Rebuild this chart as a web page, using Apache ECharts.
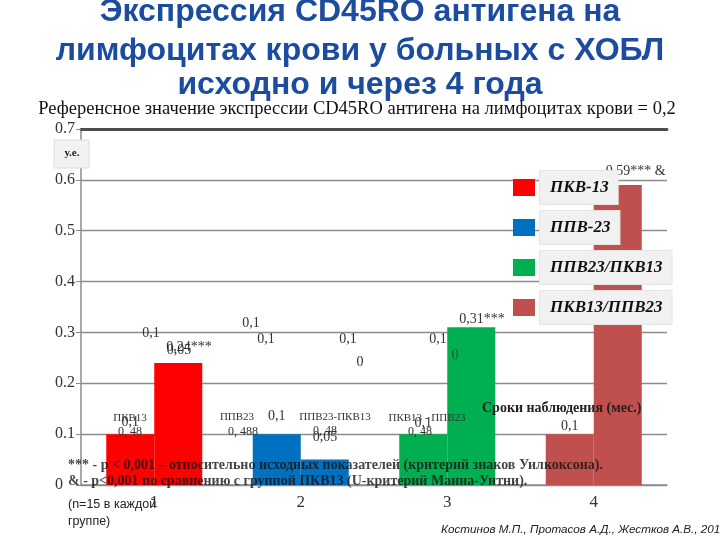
<!DOCTYPE html>
<html><head><meta charset="utf-8">
<script src="https://cdn.jsdelivr.net/npm/echarts@6/dist/echarts.min.js"></script>
<style>html,body{margin:0;padding:0;background:#fff}#c{width:720px;height:540px}</style>
</head><body><div id="c"></div>
<script>
// ---- data ----
const categories = ['1', '2', '3', '4'];
const groupNames = ['ПКВ-13', 'ППВ-23', 'ППВ23/ПКВ13', 'ПКВ13/ППВ23'];
const baselineValues = [0.1, 0.1, 0.1, 0.1];
const after4yValues = [0.24, 0.05, 0.31, 0.59];
const after4yMarks = ['***', '', '***', '*** &'];
const yMin = 0, yMax = 0.7, yStep = 0.1;

// ---- styles / layout (kept apart from data) ----
const groupColors = ['#ff0000', '#0070c0', '#00b050', '#c0504d'];
const baseLabelDist = [5, 11, 4, 1];
const afterLabelDist = [9, 15, 1, 7];
const SERIF = '"Liberation Serif", "DejaVu Serif", serif';
const SANS = '"Liberation Sans", Arial, sans-serif';

// stray annotation texts seen on the slide
const strayTexts = [
  ['0,1', 151, 333, 14, '#333'], ['0,05', 179, 350, 14, '#333'],
  ['0,1', 251, 323, 14, '#333'], ['0,1', 266, 339, 14, '#333'],
  ['0,1', 348, 339, 14, '#333'], ['0', 360, 362, 14, '#333'],
  ['0,1', 438, 339, 14, '#333'], ['0', 455, 355, 14, '#1d5a2c'],
  ['ПКВ13', 130, 418, 11, '#333'], ['0, 48', 130, 432, 12, '#333'],
  ['ППВ23', 237, 417, 11, '#333'], ['0, 488', 243, 432, 12, '#333'],
  ['ППВ23-ПКВ13', 335, 417, 11, '#333'], ['0, 48', 325, 431, 12, '#333'],
  ['ПКВ13 - ППВ23', 427, 418, 11, '#333'], ['0, 48', 420, 432, 12, '#333']
];

const fmt = v => String(v).replace('.', ',');

const chart = echarts.init(document.getElementById('c'), null, {renderer: 'canvas'});

const baseData = baselineValues.map((v, i) => ({
  value: v,
  itemStyle: {color: groupColors[i]},
  label: {distance: baseLabelDist[i]}
}));
const afterData = after4yValues.map((v, i) => ({
  value: v,
  itemStyle: {color: groupColors[i]},
  label: {distance: afterLabelDist[i], formatter: fmt(v) + after4yMarks[i]}
}));

const legendSeries = groupNames.map((n, i) => ({
  name: n, type: 'line', data: [], xAxisIndex: 0, yAxisIndex: 0,
  itemStyle: {color: groupColors[i]}, lineStyle: {color: groupColors[i]}
}));

const T = (t, x, y, font, fill, align, z) => ({
  type: 'text', z: z || 100, x: x, y: y,
  style: {text: t, font: font, fill: fill, align: align, verticalAlign: 'middle', textAlign: align, textVerticalAlign: 'middle'}
});

const graphics = [];
// title
const titleLines = [['Экспрессия CD45RO антигена на', 12], ['лимфоцитах крови у больных с ХОБЛ', 51], ['исходно и через 4 года', 85]];
titleLines.forEach(([t, y]) => graphics.push(T(t, 360, y, 'bold 32px ' + SANS, '#1c4c9f', 'center')));
graphics.push(T('Референсное значение экспрессии CD45RO антигена на лимфоцитах крови = 0,2', 357, 109, '18.5px ' + SERIF, '#111', 'center'));
// unit box
graphics.push({type: 'rect', z: 100, shape: {x: 54, y: 140, width: 35, height: 28}, style: {fill: '#f2f2f2', stroke: '#dcdcdc', lineWidth: 1}});
graphics.push(T('у.е.', 72, 153, 'bold 11px ' + SERIF, '#222', 'center', 101));
// stray texts
strayTexts.forEach(([t, x, y, s, c]) => graphics.push(T(t, x, y, s + 'px ' + SERIF, c, 'center', 90)));
// axis caption
graphics.push(T('Сроки наблюдения (мес.)', 482, 408, 'bold 14px ' + SERIF, '#222', 'left'));
// footnotes
graphics.push(T('*** - p < 0,001 – относительно исходных показателей (критерий знаков Уилкоксона).', 68, 465, 'bold 14px ' + SERIF, 'rgba(20,20,20,0.8)', 'left'));
graphics.push(T('& - p<0,001 по сравнению с группой ПКВ13 (U-критерий Манна-Уитни).', 68, 481, 'bold 14px ' + SERIF, 'rgba(20,20,20,0.8)', 'left'));
graphics.push(T('(n=15 в каждой', 68, 505, '12.5px ' + SANS, '#222', 'left'));
graphics.push(T('группе)', 68, 522, '12.5px ' + SANS, '#222', 'left'));
graphics.push(T('Костинов М.П., Протасов А.Д., Жестков А.В., 2014', 441, 530, 'italic 11.7px ' + SANS, '#222', 'left'));

const option = {
  animation: false,
  backgroundColor: '#fff',
  grid: {left: 81, right: 53, top: 129, bottom: 55, containLabel: false},
  legend: {
    data: groupNames, orient: 'vertical', left: 508, top: 165,
    icon: 'rect', itemWidth: 22, itemHeight: 17, itemGap: 5,
    selectedMode: false,
    textStyle: {fontFamily: SERIF, fontStyle: 'italic', fontWeight: 'bold', fontSize: 17, color: '#111',
      backgroundColor: '#f1f1f1', padding: [8, 9, 8, 10], borderColor: '#e4e4e4', borderWidth: 1}
  },
  xAxis: [{
    type: 'category', data: categories, position: 'bottom',
    axisLine: {lineStyle: {color: '#8c8c8c', width: 1.5}},
    axisTick: {show: false},
    axisLabel: {fontFamily: SERIF, fontSize: 17, color: '#333', margin: 9}
  }, {
    type: 'category', data: categories, position: 'top',
    axisLine: {lineStyle: {color: '#4d4d4d', width: 3}},
    axisTick: {show: false}, axisLabel: {show: false}
  }],
  yAxis: {
    type: 'value', min: yMin, max: yMax, interval: yStep,
    axisLine: {show: true, lineStyle: {color: '#8c8c8c', width: 1.5}},
    axisTick: {show: true, length: 5, lineStyle: {color: '#8c8c8c'}},
    splitLine: {lineStyle: {color: '#8c8c8c', width: 1.3}},
    axisLabel: {fontFamily: SERIF, fontSize: 16, color: '#333', margin: 26, align: 'left',
      formatter: v => v === 0 ? '0' : v.toFixed(1)}
  },
  series: [
    {
      name: 'исходно', type: 'bar', xAxisIndex: 0, data: baseData, barWidth: 48, barGap: '0%',
      label: {show: true, position: 'top', fontFamily: SERIF, fontSize: 14, color: '#333', formatter: p => fmt(p.value)}
    },
    {
      name: 'через 4 года', type: 'bar', xAxisIndex: 0, data: afterData, barWidth: 48, barGap: '0%',
      label: {show: true, position: 'top', align: 'left', offset: [-12, 0], fontFamily: SERIF, fontSize: 14, color: '#333'}
    }
  ].concat(legendSeries),
  graphic: graphics
};
chart.setOption(option);
</script></body></html>
